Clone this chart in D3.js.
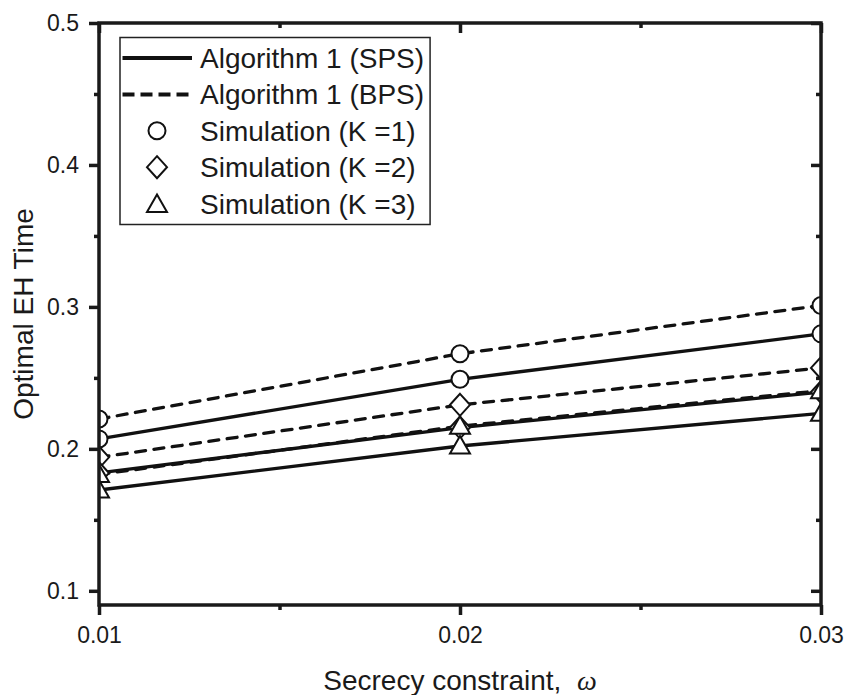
<!DOCTYPE html>
<html>
<head>
<meta charset="utf-8">
<script src="https://cdn.jsdelivr.net/npm/d3@7"></script>
<style>
    body { margin: 0; background: #fff; }
    svg { font-family: "Liberation Sans", Arial, sans-serif; }
    .axis text { font-size: 23px; fill: #1a1a1a; }
    .axis line { stroke: #1a1a1a; stroke-width: 3.5; }
    .axis path { display: none; }
</style>
</head>
<body>
<div id="eh-time-chart"></div>
<script>

// secrecy constraint values on the x axis
var omegaValues = [0.01, 0.02, 0.03];

// algorithm 1, single power splitting (solid lines)
var spsK1 = [0.207, 0.249, 0.281];
var spsK2 = [0.183, 0.215, 0.240];
var spsK3 = [0.171, 0.202, 0.225];

// algorithm 1, battery power splitting (dashed lines)
var bpsK1 = [0.221, 0.267, 0.301];
var bpsK2 = [0.194, 0.231, 0.257];
var bpsK3 = [0.182, 0.216, 0.241];

// tick values
var xMajorTicks = [0.01, 0.02, 0.03];
var xMinorTicks = [0.015, 0.025];
var yMajorTicks = [0.1, 0.2, 0.3, 0.4, 0.5];
var yMinorTicks = [0.15, 0.25, 0.35, 0.45];

var legendLabels = ["Algorithm 1 (SPS)", "Algorithm 1 (BPS)", "Simulation (K =1)", "Simulation (K =2)", "Simulation (K =3)"];


EhTimeChart = function(_parentElement) {
    this.parentElement = _parentElement;
    this.displayData = [];
    this.initVis();
};

EhTimeChart.prototype.initVis = function() {

    var vis = this;

    vis.margin = {top: 23, right: 25, bottom: 90, left: 99};

    vis.width = 846 - vis.margin.left - vis.margin.right;
    vis.height = 695 - vis.margin.top - vis.margin.bottom;

    vis.svg = d3.select("#" + vis.parentElement).append("svg")
        .attr("width", 846)
        .attr("height", 695)
        .append("g")
        .attr("transform", "translate(" + vis.margin.left + "," + vis.margin.top + ")");

    //-----scales----------
    vis.x = d3.scaleLinear()
        .domain([0.01, 0.03])
        .range([0, vis.width]);

    vis.y = d3.scaleLinear()
        .domain([0.09, 0.5])
        .range([vis.height, 0]);

    // clip so markers at the edges get cut in half
    vis.svg.append("clipPath")
        .attr("id", "plot-clip")
        .append("rect")
        .attr("width", vis.width)
        .attr("height", vis.height);

    vis.wrangleData();
};


EhTimeChart.prototype.wrangleData = function() {

    var vis = this;

    function toPoints(values) {
        return values.map(function(v, i) {
            return {x: omegaValues[i], y: v};
        });
    }

    vis.displayData = [
        {values: toPoints(bpsK1), dashed: true, marker: "circle"},
        {values: toPoints(spsK1), dashed: false, marker: "circle"},
        {values: toPoints(bpsK2), dashed: true, marker: "diamond"},
        {values: toPoints(spsK2), dashed: false, marker: "diamond"},
        {values: toPoints(bpsK3), dashed: true, marker: "triangle"},
        {values: toPoints(spsK3), dashed: false, marker: "triangle"}
    ];

    vis.updateVis();
};


// marker outlines, centred on 0,0
function markerPath(type) {
    if (type == "circle") {
        var r = 8.5;
        return "M" + r + ",0A" + r + "," + r + " 0 1,1 " + (-r) + ",0A" + r + "," + r + " 0 1,1 " + r + ",0Z";
    }
    else if (type == "diamond") {
        return "M0,-11L10,0L0,11L-10,0Z";
    }
    else {
        return "M0,-10L10,7.5L-10,7.5Z";
    }
}


EhTimeChart.prototype.updateVis = function() {

    var vis = this;

    //-----axes----------
    var yAxisMajor = d3.axisLeft(vis.y).tickValues(yMajorTicks).tickSize(10).tickPadding(10)
        .tickFormat(d3.format(".1f"));
    var yAxisMinor = d3.axisLeft(vis.y).tickValues(yMinorTicks).tickSize(5).tickFormat("");
    var yRightMajor = d3.axisRight(vis.y).tickValues(yMajorTicks).tickSize(-10).tickFormat("");
    var yRightMinor = d3.axisRight(vis.y).tickValues(yMinorTicks).tickSize(-5).tickFormat("");

    var xAxisMajor = d3.axisBottom(vis.x).tickValues(xMajorTicks).tickSize(10).tickPadding(12)
        .tickFormat(d3.format(".2f"));
    var xAxisMinor = d3.axisBottom(vis.x).tickValues(xMinorTicks).tickSize(5).tickFormat("");
    var xTopMajor = d3.axisTop(vis.x).tickValues(xMajorTicks).tickSize(-10).tickFormat("");
    var xTopMinor = d3.axisTop(vis.x).tickValues(xMinorTicks).tickSize(-5).tickFormat("");

    vis.svg.append("g").attr("class", "y-axis axis").call(yAxisMajor);
    vis.svg.append("g").attr("class", "y-axis axis").call(yAxisMinor);
    vis.svg.append("g").attr("class", "y-axis axis")
        .attr("transform", "translate(" + vis.width + ",0)").call(yRightMajor);
    vis.svg.append("g").attr("class", "y-axis axis")
        .attr("transform", "translate(" + vis.width + ",0)").call(yRightMinor);

    vis.svg.append("g").attr("class", "x-axis axis")
        .attr("transform", "translate(0," + vis.height + ")").call(xAxisMajor);
    vis.svg.append("g").attr("class", "x-axis axis")
        .attr("transform", "translate(0," + vis.height + ")").call(xAxisMinor);
    vis.svg.append("g").attr("class", "x-axis axis").call(xTopMajor);
    vis.svg.append("g").attr("class", "x-axis axis").call(xTopMinor);

    //----lines------
    var line = d3.line()
        .x(function(d) { return vis.x(d.x); })
        .y(function(d) { return vis.y(d.y); });

    var plot = vis.svg.append("g")
        .attr("clip-path", "url(#plot-clip)");

    plot.selectAll(".series-line")
        .data(vis.displayData)
        .enter()
        .append("path")
        .attr("class", "series-line")
        .attr("d", function(d) { return line(d.values); })
        .style("fill", "none")
        .style("stroke", "#111")
        .style("stroke-width", 3.3)
        .style("stroke-linecap", function(d) { return d.dashed ? "round" : "butt"; })
        .style("stroke-dasharray", function(d) { return d.dashed ? "10,8.5" : null; });

    //----simulation markers, drawn K=1 first so triangles sit on top------
    var markerOrder = ["circle", "diamond", "triangle"];
    markerOrder.forEach(function(type) {
        vis.displayData.filter(function(s) { return s.marker == type; }).forEach(function(s) {
            plot.selectAll(null)
                .data(s.values)
                .enter()
                .append("path")
                .attr("d", markerPath(type))
                .attr("transform", function(d) { return "translate(" + vis.x(d.x) + "," + vis.y(d.y) + ")"; })
                .style("fill", "#fff")
                .style("stroke", "#111")
                .style("stroke-width", 2);
        });
    });

    //----frame------
    vis.svg.append("rect")
        .attr("width", vis.width)
        .attr("height", vis.height)
        .style("fill", "none")
        .style("stroke", "#1a1a1a")
        .style("stroke-width", 3.5);

    //----legend------
    var legend = vis.svg.append("g")
        .attr("transform", "translate(21,14.5)");

    var rowHeight = 36.4;

    var legendBox = legend.append("rect")
        .attr("x", 0)
        .attr("y", 0)
        .attr("height", 5 * rowHeight + 5)
        .style("fill", "#fff")
        .style("stroke", "#222")
        .style("stroke-width", 1.5);

    var rows = legend.selectAll(".legend-row")
        .data(legendLabels)
        .enter()
        .append("g")
        .attr("class", "legend-row")
        .attr("transform", function(d, i) { return "translate(0," + (20.5 + i * rowHeight) + ")"; });

    rows.each(function(d, i) {
        var row = d3.select(this);
        if (i < 2) {
            row.append("line")
                .attr("x1", 2.5)
                .attr("x2", 72)
                .style("stroke", "#111")
                .style("stroke-width", 4)
                .style("stroke-dasharray", i == 1 ? "12,6" : null);
        }
        else {
            row.append("path")
                .attr("d", markerPath(markerOrder[i - 2]))
                .attr("transform", "translate(37," + (i == 4 ? 1 : 0) + ")")
                .style("fill", "#fff")
                .style("stroke", "#111")
                .style("stroke-width", 2);
        }
        row.append("text")
            .attr("x", 80)
            .attr("y", 10)
            .style("font-size", "28px")
            .style("fill", "#1a1a1a")
            .text(d);
    });

    var maxTextWidth = d3.max(rows.selectAll("text").nodes(), function(n) { return n.getComputedTextLength(); });
    legendBox.attr("width", 80 + maxTextWidth + 6);

    //----axis titles------
    vis.svg.append("text")
        .attr("class", "x label")
        .attr("text-anchor", "middle")
        .attr("x", vis.width / 2)
        .attr("y", vis.height + 85)
        .style("font-size", "28px")
        .style("fill", "#1a1a1a")
        .text("Secrecy constraint,\u00a0\u00a0")
        .append("tspan")
        .style("font-family", "'Liberation Serif', serif")
        .style("font-style", "italic")
        .text("\u03c9");

    vis.svg.append("text")
        .attr("class", "y label")
        .attr("text-anchor", "middle")
        .attr("transform", "translate(" + (33 - vis.margin.left) + "," + (vis.height / 2) + ") rotate(-90)")
        .style("font-size", "28px")
        .style("fill", "#1a1a1a")
        .text("Optimal EH Time");
};

new EhTimeChart("eh-time-chart");

</script>
</body>
</html>
